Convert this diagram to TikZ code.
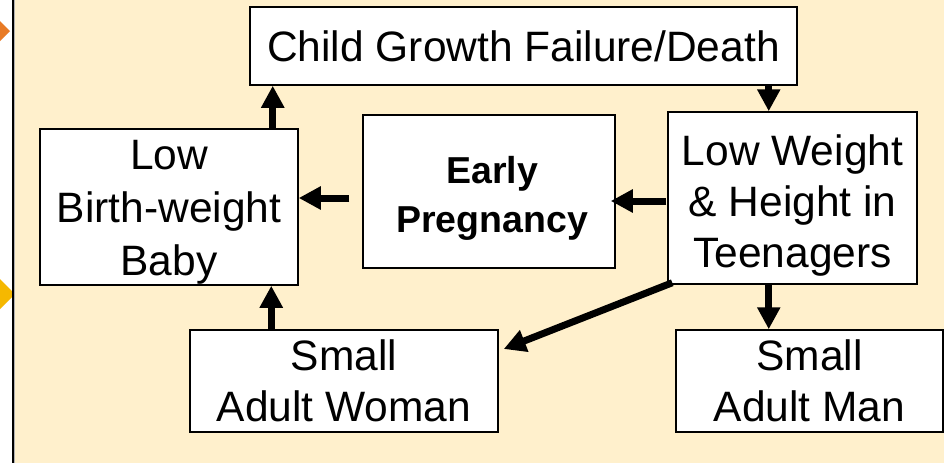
\documentclass[tikz,border=0pt]{standalone}
\usepackage{fontspec}
\setmainfont{Liberation Sans}
\usetikzlibrary{arrows.meta,calc}
\definecolor{beige}{HTML}{FFF0CC}
\definecolor{dorange}{HTML}{E87A25}
\definecolor{dgold}{HTML}{F5B800}
\begin{document}
\begin{tikzpicture}[x=1pt,y=-1pt,
  box/.style={draw=black,line width=1.5pt,fill=white,inner sep=0pt},
  txt/.style={inner sep=0pt,align=center,font=\fontsize{42.5}{51}\selectfont},
  arr/.style={line width=7pt,-{Triangle[length=22pt,width=22pt]}}]
\useasboundingbox (0,0) rectangle (944,463);
\fill[white] (0,0) rectangle (944,463);
\begin{scope}
\clip (0,0) rectangle (13,463);
\fill[dorange] (-4,17) -- (10,31) -- (-4,45) -- (-18,31) -- cycle;
\fill[dgold] (-3,276) -- (15,294) -- (-3,312) -- (-21,294) -- cycle;
\end{scope}
\fill[beige] (13,0) rectangle (944,463);
\draw[gray!60,line width=1pt] (14.5,0) -- (14.5,463);
\draw[black,line width=1.5pt] (13,0) -- (13,463);

\node[box,minimum width=547pt,minimum height=78pt] (child) at (523.5,46) {};
\node[box,minimum width=258pt,minimum height=156pt] (lbw) at (169,207) {};
\node[box,minimum width=252pt,minimum height=153pt] (ep) at (489,191.5) {};
\node[box,minimum width=249pt,minimum height=172pt] (lw) at (792.5,198) {};
\node[box,minimum width=308pt,minimum height=102pt] (saw) at (344,381) {};
\node[box,minimum width=267pt,minimum height=102pt] (sam) at (809.5,381) {};

\node[txt] (childT) at ($(child.center)+(0,0)$) {Child Growth Failure/Death};
\node[txt,font=\fontsize{42.5}{53}\selectfont] (lbwT) at ($(lbw.center)+(0,5)$) {Low\\Birth-weight\\Baby};
\node[txt,font=\fontsize{37.5}{49}\selectfont\bfseries] (epT) at ($(ep.center)+(3,7)$) {Early\\Pregnancy};
\node[txt] (lwT) at ($(lw.center)+(0,8)$) {Low Weight\\\& Height in\\Teenagers};
\node[txt] (sawT) at ($(saw.center)+(0,0)$) {Small\\Adult Woman};
\node[txt] (samT) at ($(sam.center)+(0,0)$) {Small\\Adult Man};

\coordinate (u1) at ($(lbw.north east)+(-26,0)$);
\draw[arr] (u1) -- (u1 |- child.south);
\coordinate (u2) at ($(saw.north west)+(82,0)$);
\draw[arr] (u2) -- (u2 |- lbw.south);
\coordinate (d1) at ($(child.south east)+(-29,0)$);
\draw[arr] (d1) -- (d1 |- lw.north);
\coordinate (d2) at (d1 |- lw.south);
\draw[arr] (d2) -- (d2 |- sam.north);
\coordinate (l1) at ($(ep.west)+(-13,6.5)$);
\draw[arr] (l1) -- (l1 -| lbw.east);
\coordinate (l2) at ($(lw.west)+(-1,3)$);
\draw[arr,shorten >=-5pt] (l2) -- (l2 -| ep.east);
\coordinate (g1) at ($(lw.south west)+(5,-2)$);
\coordinate (g2) at ($(saw.east)+(5,-32)$);
\draw[arr] (g1) -- (g2);
\end{tikzpicture}
\end{document}
